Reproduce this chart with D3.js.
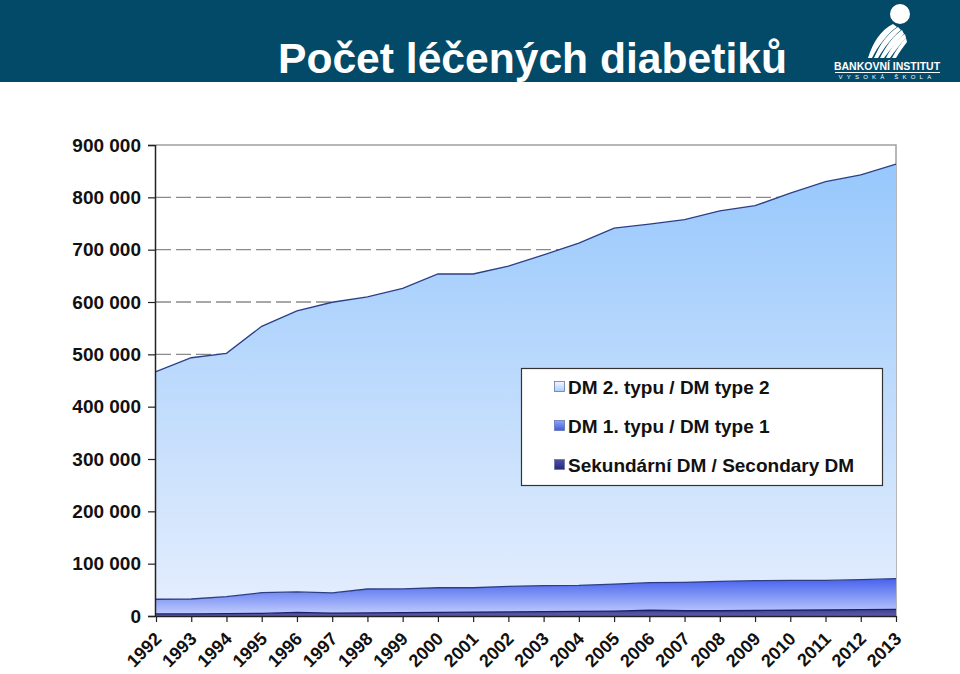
<!DOCTYPE html>
<html>
<head>
<meta charset="utf-8">
<script src="https://cdn.jsdelivr.net/npm/d3@7"></script>
<style>
  html, body { margin: 0; padding: 0; background: #ffffff; }
  svg { display: block; }
  text { font-family: "Liberation Sans", Arial, sans-serif; }
</style>
</head>
<body>
<svg id="chart" width="960" height="674"></svg>
<script>
const years = ["1992","1993","1994","1995","1996","1997","1998","1999","2000","2001","2002","2003","2004","2005","2006","2007","2008","2009","2010","2011","2012","2013"];
const secondaryDM = [4000,4000,4500,5000,7000,5500,6000,6500,7000,7500,8000,8500,9000,9500,11000,10000,10000,10500,11000,11500,12000,12500];
const dmType1 = [28000,28500,32500,39600,39000,38500,45600,45500,47000,46500,48700,49500,49600,51500,52700,54300,56200,57000,57000,56500,57400,58800];
const dmType2 = [435000,461000,465000,509000,537000,555500,558000,574000,599500,599500,612000,632000,654000,680000,685000,693000,708000,716500,740000,762000,773600,792000];
const yTicks = [0,100000,200000,300000,400000,500000,600000,700000,800000,900000];
const seriesNames = ["Sekundární DM / Secondary DM","DM 1. typu / DM type 1","DM 2. typu / DM type 2"];
const legendOrder = ["DM 2. typu / DM type 2","DM 1. typu / DM type 1","Sekundární DM / Secondary DM"];
const title = "Počet léčených diabetiků";

const svg = d3.select("#chart");
const W = 960, H = 674;

// header band
svg.append("rect").attr("x",0).attr("y",0).attr("width",W).attr("height",82).attr("fill","#034a69");
svg.append("text").attr("x",278).attr("y",73).attr("fill","#ffffff")
  .attr("font-size",42.6).attr("font-weight","bold").text(title);

// logo
const logo = svg.append("g");
logo.append("circle").attr("cx",900).attr("cy",14).attr("r",10).attr("fill","#ffffff");
const sw = [
  "M868,58 C873,42 881,30 893,24 L897,27 C887,34 878,46 872,58 Z",
  "M874,58 C880,44 888,33 898,27 L901,30 C892,37 884,48 878,58 Z",
  "M880,58 C886,46 893,36 902,30 L904,34 C897,41 890,50 884,58 Z",
  "M886,58 C891,48 897,39 905,34 L906,38 C900,44 895,51 890,58 Z",
  "M892,58 C896,50 901,43 906,38 L907,42 C903,47 899,53 896,58 Z"
];
sw.forEach(p => logo.append("path").attr("d",p).attr("fill","#ffffff"));
logo.append("text").attr("x",887).attr("y",70).attr("text-anchor","middle").attr("fill","#ffffff")
  .attr("font-size",10.5).attr("font-weight","bold").text("BANKOVNÍ INSTITUT");
logo.append("line").attr("x1",835).attr("x2",940).attr("y1",72.5).attr("y2",72.5).attr("stroke","#ffffff").attr("stroke-width",1);
logo.append("text").attr("x",887).attr("y",79).attr("text-anchor","middle").attr("fill","#ffffff")
  .attr("font-size",6).attr("letter-spacing","4.2").text("VYSOKÁ ŠKOLA");

// chart area
const x0 = 156, x1 = 896, yTop = 145, yBot = 616;
const x = d3.scalePoint().domain(years).range([x0, x1]);
const y = d3.scaleLinear().domain([0, 900000]).range([yBot, yTop]);

const defs = svg.append("defs");
function grad(id, stops) {
  const g = defs.append("linearGradient").attr("id", id)
    .attr("gradientUnits","userSpaceOnUse").attr("x1",0).attr("x2",0);
  return g.call(gg => stops.forEach(s => gg.append("stop").attr("offset", s[0]).attr("stop-color", s[1])));
}
grad("g2", [[0,"#96c7fc"],[1,"#e3edfd"]]).attr("y1",160).attr("y2",600);
grad("g1", [[0,"#4560ee"],[1,"#b8c6fb"]]).attr("y1",578).attr("y2",612);
grad("g0", [[0,"#2a2a8a"],[1,"#5c5ca8"]]).attr("y1",604).attr("y2",616);
const lg = [["l2",["#f4f8ff","#a6cdfb"]],["l1",["#8fa6f6","#3c5ae8"]],["l0",["#5050a0","#262680"]]];
lg.forEach(([id, c]) => {
  const g = defs.append("linearGradient").attr("id", id).attr("x1",0).attr("x2",0).attr("y1",0).attr("y2",1);
  g.append("stop").attr("offset",0).attr("stop-color",c[0]);
  g.append("stop").attr("offset",1).attr("stop-color",c[1]);
});

// gridlines (dashed)
svg.append("g").selectAll("line").data(yTicks.filter(d => d > 0 && d < 900000)).join("line")
  .attr("x1", x0).attr("x2", x1).attr("y1", d => y(d)).attr("y2", d => y(d))
  .attr("stroke","#8a8a8a").attr("stroke-width",1.3).attr("stroke-dasharray","15,5");

// plot border top/right
svg.append("path").attr("d", `M${x0},${yTop}H${x1}V${yBot}`).attr("fill","none").attr("stroke","#a0a0a0").attr("stroke-width",1.5);

const data = years.map((yr, i) => ({year: yr, s0: secondaryDM[i], s1: dmType1[i], s2: dmType2[i]}));
const stack = d3.stack().keys(["s0","s1","s2"]);
const layers = stack(data);
const fills = ["url(#g0)","url(#g1)","url(#g2)"];
const area = d3.area().x(d => x(d.data.year)).y0(d => y(d[0])).y1(d => y(d[1]));
const line = d3.line().x(d => x(d.data.year)).y(d => y(d[1]));

svg.append("g").selectAll("path").data(layers).join("path")
  .attr("d", area).attr("fill", (d, i) => fills[i]);
svg.append("g").selectAll("path").data(layers).join("path")
  .attr("d", line).attr("fill","none").attr("stroke", (d,i) => i === 0 ? "#1e1e70" : "#2c3f86").attr("stroke-width",1.3);

// axes
const yAxis = d3.axisLeft(y).tickValues(yTicks).tickSize(7).tickPadding(7)
  .tickFormat(d => d3.format(",")(d).replace(/,/g, " "));
const gy = svg.append("g").attr("transform", `translate(${x0-1},0)`).call(yAxis);
gy.select(".domain").attr("stroke","#222").attr("stroke-width",1.5);
gy.selectAll(".tick line").attr("stroke","#222").attr("stroke-width",1.2);
gy.selectAll(".tick text").attr("font-size",19).attr("font-weight","bold").attr("fill","#111")
  .attr("font-family","'Liberation Sans', Arial, sans-serif");

const xAxis = d3.axisBottom(x).tickSize(6).tickSizeOuter(0);
const gx = svg.append("g").attr("transform", `translate(0,${yBot})`).call(xAxis);
gx.select(".domain").attr("stroke","#222").attr("stroke-width",1.5);
gx.selectAll(".tick line").attr("stroke","#222").attr("stroke-width",1.2);
gx.selectAll(".tick text").attr("font-size",18).attr("font-weight","bold").attr("fill","#111")
  .attr("font-family","'Liberation Sans', Arial, sans-serif")
  .attr("text-anchor","end").attr("dy",0).attr("y",0)
  .attr("transform","translate(6,24) rotate(-45)");

// legend
const lgG = svg.append("g");
lgG.append("rect").attr("x",521.5).attr("y",368.5).attr("width",361).attr("height",117)
  .attr("fill","#ffffff").attr("stroke","#333").attr("stroke-width",1.2);
const lgIds = ["l2","l1","l0"];
legendOrder.forEach((name, i) => {
  const yy = 387 + i * 39;
  lgG.append("rect").attr("x",554.5).attr("y",yy-5.5).attr("width",10).attr("height",10)
    .attr("fill",`url(#${lgIds[i]})`).attr("stroke","#6677aa").attr("stroke-width",0.8);
  lgG.append("text").attr("x",568).attr("y",yy+6.5).attr("font-size",19).attr("font-weight","bold")
    .attr("fill","#111").text(name);
});
</script>
</body>
</html>
